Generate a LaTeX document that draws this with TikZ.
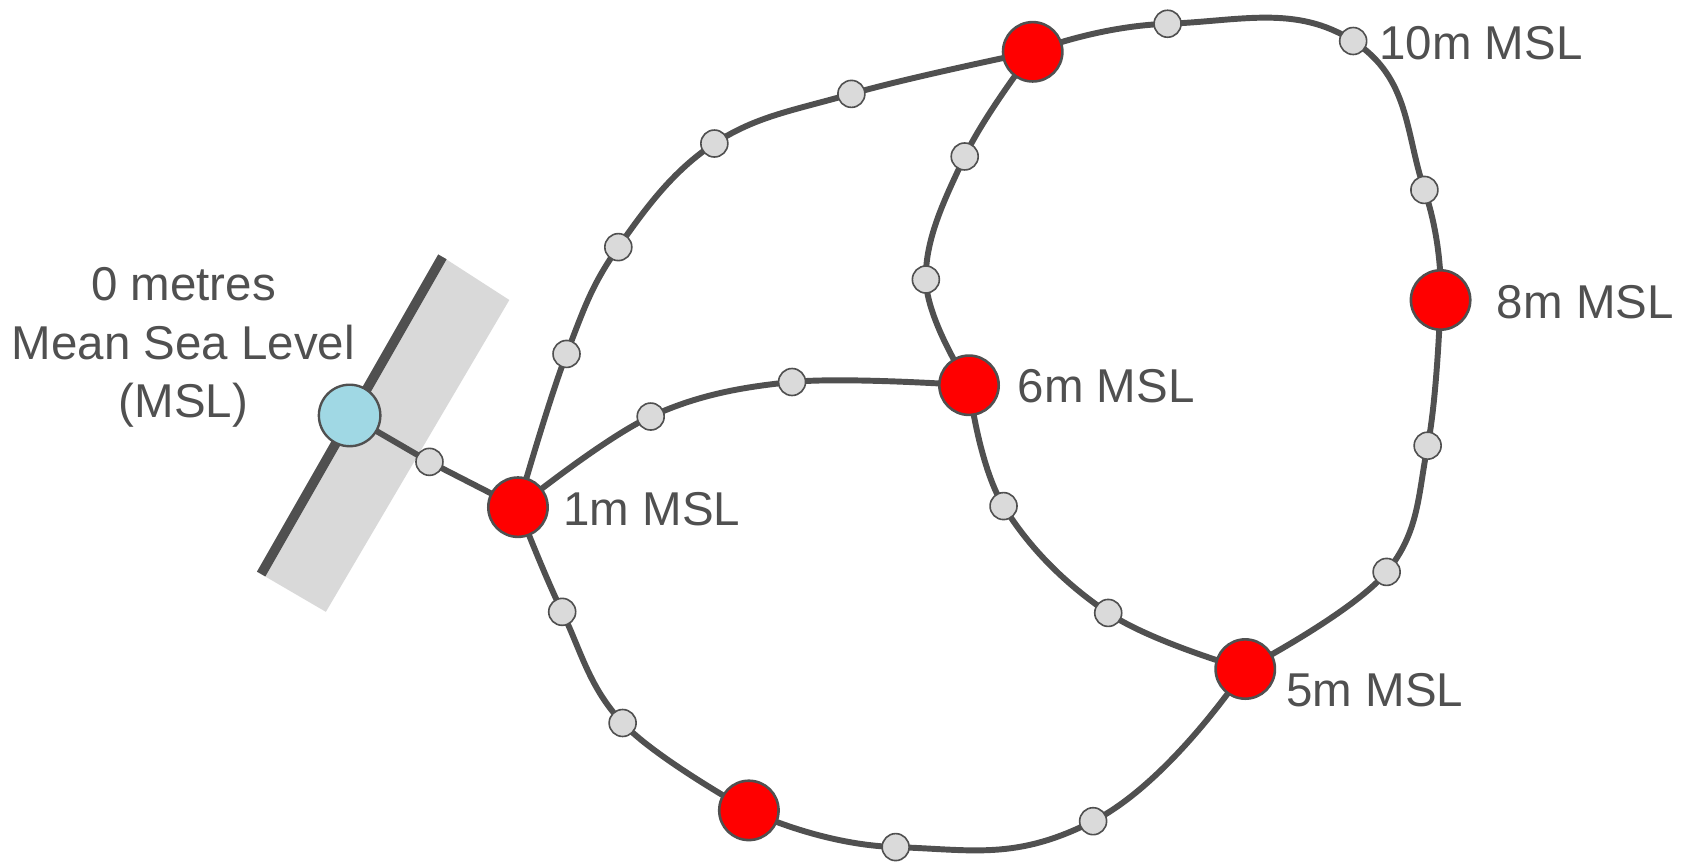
\documentclass[tikz,border=0pt]{standalone}
\usepackage{fontspec}
\setmainfont{Liberation Sans}
\usetikzlibrary{backgrounds}
\definecolor{ink}{HTML}{505050}
\definecolor{stop}{HTML}{FF0000}
\definecolor{sea}{HTML}{A0D8E4}
\definecolor{halt}{HTML}{DADADA}
\definecolor{shore}{HTML}{D9D9D9}
\tikzset{
  station/.style={circle, draw=ink, fill=stop, line width=2.4pt, minimum size=55pt, inner sep=0pt},
  origin/.style={circle, draw=ink, fill=sea, line width=2.2pt, minimum size=57pt, inner sep=0pt},
  halt/.style={circle, draw=ink, fill=halt, line width=1.5pt, minimum size=25pt, inner sep=0pt},
  track/.style={draw=ink, line width=5.5pt, line cap=round},
  lbl/.style={text=ink, font=\fontsize{44}{54}\selectfont, inner sep=0pt}
}
\begin{document}
\begin{tikzpicture}[x=1pt, y=-1pt]
\useasboundingbox (0,0) rectangle (1568,804);

% main stations
\node[origin]  (sea)  at (324,385) {};
\node[station] (one)  at (480,470) {};
\node[station] (top)  at (957,48)  {};
\node[station] (eight) at (1335,278) {};
\node[station] (six)  at (898,357) {};
\node[station] (five) at (1154,620) {};
\node[station] (low)  at (694,751) {};

% intermediate halts
\node[halt] (h0)  at (398,428) {};
\node[halt] (a1)  at (525,328) {};
\node[halt] (a2)  at (573,229) {};
\node[halt] (a3)  at (662,133) {};
\node[halt] (a4)  at (789,87)  {};
\node[halt] (b1)  at (1082,22) {};
\node[halt] (ten) at (1254,38) {};
\node[halt] (c1)  at (1320,176) {};
\node[halt] (d1)  at (1323,413) {};
\node[halt] (d2)  at (1285,530) {};
\node[halt] (e1)  at (1027,568) {};
\node[halt] (e2)  at (930,469) {};
\node[halt] (f1)  at (858,259) {};
\node[halt] (f2)  at (894,145) {};
\node[halt] (g1)  at (603,386) {};
\node[halt] (g2)  at (734,354) {};
\node[halt] (k1)  at (521,567) {};
\node[halt] (k2)  at (577,670) {};
\node[halt] (m1)  at (830,785) {};
\node[halt] (m2)  at (1013,761) {};

% labels
\node[lbl, anchor=west] (lten)   at (1278,40)  {10m MSL};
\node[lbl, anchor=west] (leight) at (1387,280) {8m MSL};
\node[lbl, anchor=west] (lsix)   at (943,358)  {6m MSL};
\node[lbl, anchor=west] (lone)   at (522,472)  {1m MSL};
\node[lbl, anchor=west] (lfive)  at (1192,640) {5m MSL};
\node[lbl, align=center] (lsea) at (170,322) {0 metres\\Mean Sea Level\\(MSL)};

\begin{scope}[on background layer]
  % shoreline band and edge
  \coordinate (s1) at (410,238);
  \coordinate (s2) at (242,532);
  \fill[shore] (s1) -- (472,278) -- (302,567) -- (s2) -- cycle;
  \draw[ink, line width=9pt] (s1) -- (s2);

  % track sections
  \draw[track] (sea.center) -- (h0.center) -- (one.center);
  \draw[track] plot[smooth, tension=0.65] coordinates {(one) (a1) (a2) (a3) (a4) (top)};
  \draw[track] plot[smooth, tension=0.8] coordinates {(top) (b1) (ten) (c1) (eight)};
  \draw[track] plot[smooth, tension=0.65] coordinates {(eight) (d1) (d2) (five)};
  \draw[track] plot[smooth, tension=0.65] coordinates {(five) (e1) (e2) (six)};
  \draw[track] plot[smooth, tension=0.65] coordinates {(six) (f1) (f2) (top)};
  \draw[track] plot[smooth, tension=0.6] coordinates {(one) (g1) (g2) (six)};
  \draw[track] plot[smooth, tension=0.65] coordinates {(one) (k1) (k2) (low)};
  \draw[track] plot[smooth, tension=0.8] coordinates {(low) (m1) (m2) (five)};
\end{scope}
\end{tikzpicture}
\end{document}
